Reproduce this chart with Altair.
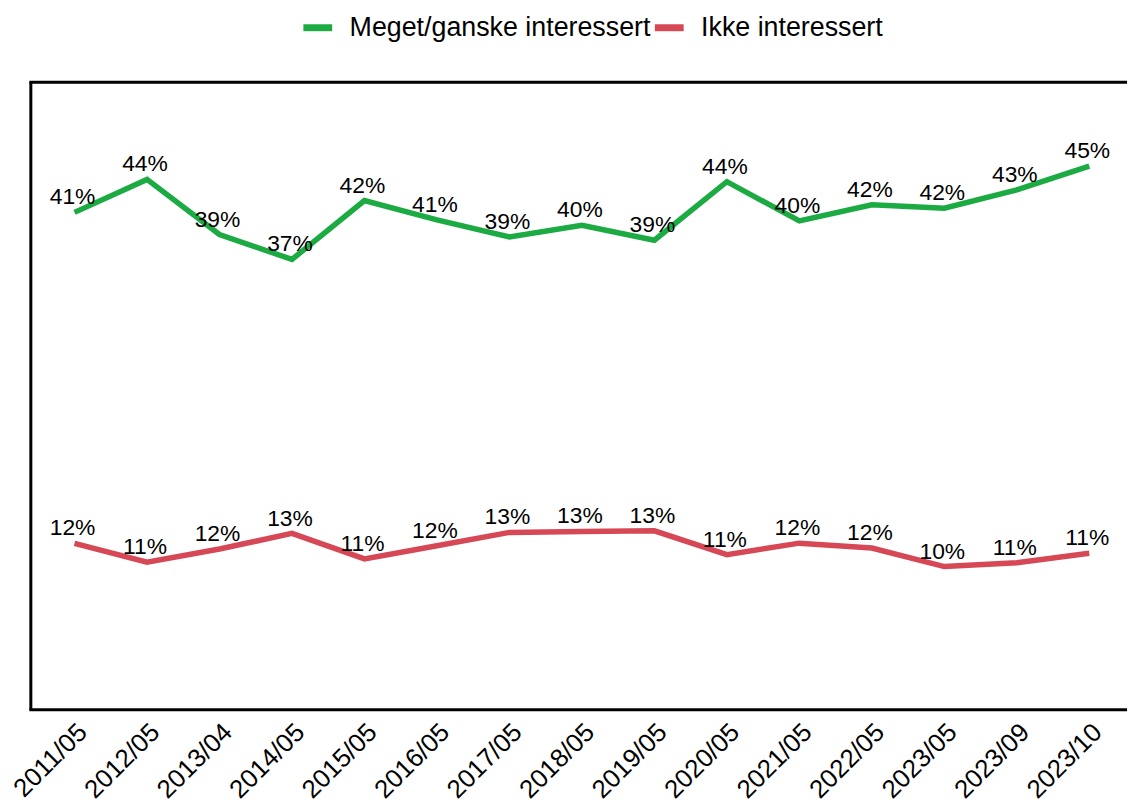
import altair as alt
import pandas as pd

periods = ["2011/05", "2012/05", "2013/04", "2014/05", "2015/05", "2016/05", "2017/05",
           "2018/05", "2019/05", "2020/05", "2021/05", "2022/05", "2023/05", "2023/09", "2023/10"]
meget = [41.2, 44.09, 39.26, 37.08, 42.24, 40.55, 39.05, 40.07, 38.76, 43.89, 40.45, 41.87, 41.57, 43.17, 45.26]
ikke = [12.21, 10.56, 11.72, 13.08, 10.85, 12.0, 13.17, 13.26, 13.31, 11.22, 12.23, 11.8, 10.18, 10.52, 11.34]
series = ["Meget/ganske interessert", "Ikke interessert"]
colors = ["#1caa42", "#d64855"]

rows = []
for name, vals in zip(series, [meget, ikke]):
    for p, v in zip(periods, vals):
        rows.append({"period": p, "value": v, "series": name})
df = pd.DataFrame(rows)

W, H = 1104, 632
FONT = "Liberation Sans"

x = alt.X("period:N", sort=periods,
          scale=alt.Scale(domain=periods, range=[44, 1066], padding=0),
          axis=alt.Axis(title=None, labelAngle=-45, labelAlign="right", labelBaseline="middle",
                        labelFontSize=26, labelFont=FONT, labelColor="black", ticks=False,
                        domain=False, grid=False, labelPadding=18, labelOffset=8, labelLimit=0))
y = alt.Y("value:Q", scale=alt.Scale(domain=[-2.37, 52.59], nice=False, zero=False), axis=None)
color = alt.Color("series:N", sort=series,
                  scale=alt.Scale(domain=series, range=colors),
                  legend=alt.Legend(title=None, orient="none", legendX=271, legendY=-73,
                                    direction="horizontal", symbolType="stroke",
                                    symbolStrokeWidth=7, symbolSize=841, labelFontSize=27,
                                    labelFont=FONT, labelColor="black", columnPadding=-13,
                                    padding=0, labelOffset=14, labelLimit=0))

base = alt.Chart(df)
lines = base.mark_line(strokeWidth=5.5).encode(x=x, y=y, color=color)
labels = base.transform_calculate(
    lab="format(datum.value, '.0f') + '%'"
).mark_text(fontSize=23, font=FONT, color="black", baseline="alphabetic", dy=-8, dx=-2).encode(
    x=x, y=y, text="lab:N")

one = pd.DataFrame({"a": [0]})
left = alt.Chart(one).mark_rule(color="black", strokeWidth=3).encode(
    x=alt.value(0), y=alt.value(0), y2=alt.value(H))
top = alt.Chart(one).mark_rule(color="black", strokeWidth=3).encode(
    x=alt.value(-1.5), x2=alt.value(W), y=alt.value(0))
bottom = alt.Chart(one).mark_rule(color="black", strokeWidth=3).encode(
    x=alt.value(-1.5), x2=alt.value(W), y=alt.value(H))

chart = alt.layer(lines, labels, left, top, bottom).properties(
    width=W, height=H,
    autosize=alt.AutoSizeParams(type="none"),
    padding={"left": 23, "top": 72, "right": 0, "bottom": 100},
).configure_view(stroke=None).configure(background="white")

chart.save("out.html", embed_options={"renderer": "svg", "actions": False})
